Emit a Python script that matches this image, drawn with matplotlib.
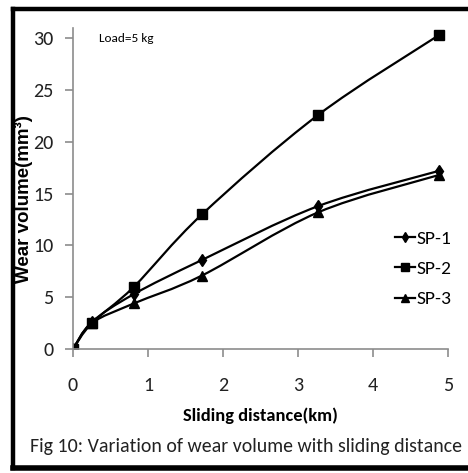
import numpy as np
import matplotlib
matplotlib.use("Agg")
import matplotlib.pyplot as plt
from matplotlib.path import Path
from matplotlib.patches import PathPatch
from matplotlib.lines import Line2D

plt.rcParams['font.family'] = ['Carlito', 'Liberation Sans', 'DejaVu Sans']

distance = [0, 0.25, 0.81, 1.72, 3.27, 4.88]
sp1 = [0, 2.6, 5.3, 8.6, 13.8, 17.2]
sp2 = [0, 2.5, 6.0, 13.0, 22.6, 30.3]
sp3 = [0, 2.5, 4.4, 7.1, 13.2, 16.8]
names = ['SP-1', 'SP-2', 'SP-3']
markers = ['d', 's', '^']
msizes = [6, 6.5, 6.5]


def smooth_path(x, y):
    # excel style smoothed line: catmull-rom segments as cubic beziers
    x = np.asarray(x, float)
    y = np.asarray(y, float)
    px = np.r_[x[0], x, x[-1]]
    py = np.r_[y[0], y, y[-1]]
    verts = [(x[0], y[0])]
    codes = [Path.MOVETO]
    for i in range(1, len(px) - 2):
        c1 = (px[i] + (px[i + 1] - px[i - 1]) / 6, py[i] + (py[i + 1] - py[i - 1]) / 6)
        c2 = (px[i + 1] - (px[i + 2] - px[i]) / 6, py[i + 1] - (py[i + 2] - py[i]) / 6)
        verts += [c1, c2, (px[i + 1], py[i + 1])]
        codes += [Path.CURVE4] * 3
    return Path(verts, codes)


fig = plt.figure(figsize=(4.68, 4.73), dpi=100)
ax = fig.add_axes([0.156, 0.262, 0.801, 0.679])

handles = []
for ys, name, m, ms in zip([sp1, sp2, sp3], names, markers, msizes):
    ax.add_patch(PathPatch(smooth_path(distance, ys), fill=False, edgecolor='black', lw=1.6))
    ax.plot(distance, ys, linestyle='none', marker=m, color='black', markersize=ms)
    handles.append(Line2D([], [], color='black', lw=1.6, marker=m, markersize=ms - 1))

ax.set_xlim(0, 5)
ax.set_ylim(0, 31)
ax.set_xticks([0, 1, 2, 3, 4, 5])
ax.set_yticks([0, 5, 10, 15, 20, 25, 30])
for s in ['top', 'right']:
    ax.spines[s].set_visible(False)
for s in ['left', 'bottom']:
    ax.spines[s].set_color('#8c8c8c')
    ax.spines[s].set_linewidth(1.2)
ax.tick_params(direction='out', length=6, width=1.2, color='#8c8c8c',
               labelsize=14.5, labelcolor='#222222')
ax.tick_params(axis='y', pad=8)
ax.tick_params(axis='x', pad=14)

ax.set_xlabel('Sliding distance(km)', fontsize=13.2, fontweight='bold', labelpad=10)
ax.set_ylabel('Wear volume(mm³)', fontsize=13.5, fontweight='bold',
              family=['Liberation Sans', 'DejaVu Sans'])
ax.yaxis.set_label_coords(-0.108, 0.467)
ax.text(0.07, 0.985, 'Load=5 kg', transform=ax.transAxes, fontsize=9.5, va='top')

ax.legend(handles, names, loc='center left', bbox_to_anchor=(0.813, 0.25),
          frameon=False, fontsize=14, handlelength=1.0, handletextpad=0.1,
          labelspacing=0.7)

fig.text(0.526, 0.055, 'Fig 10: Variation of wear volume with sliding distance',
         fontsize=14.3, ha='center', va='center', color='#222222')

# black frame around the figure
fig.add_artist(Line2D([13 / 468, 1.0], [1 - 9 / 473, 1 - 9 / 473], color='black', lw=3.2))
fig.add_artist(Line2D([13 / 468, 13 / 468], [1 - 9 / 473, 1 - 468 / 473], color='black', lw=3.2))
fig.add_artist(Line2D([13 / 468, 1.0], [1 - 468 / 473, 1 - 468 / 473], color='black', lw=4))

fig.savefig('out.png', dpi=100)
